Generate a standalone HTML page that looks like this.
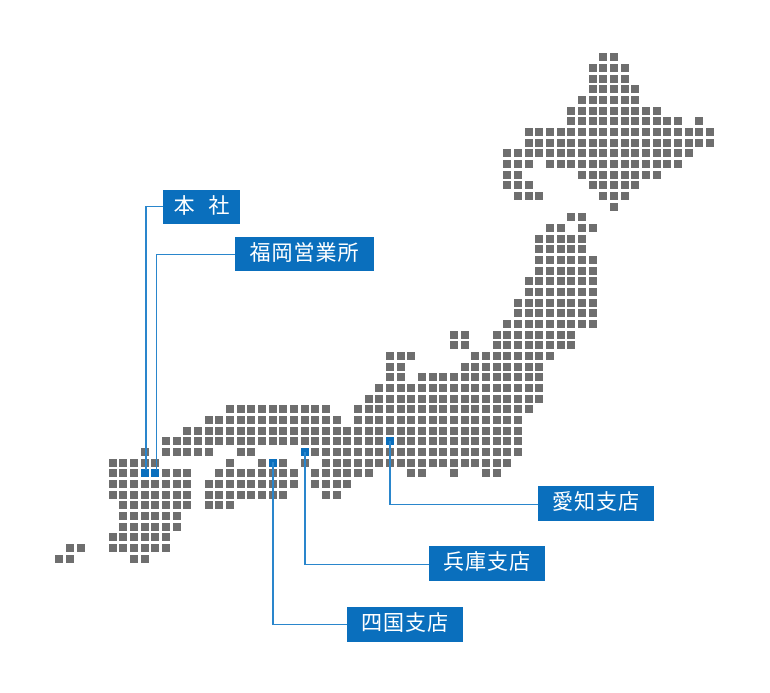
<!DOCTYPE html>
<html><head><meta charset="utf-8">
<style>
html,body{margin:0;padding:0;background:#fff;}
#c{position:relative;width:770px;height:693px;overflow:hidden;}
.s{position:absolute;width:8px;height:8px;background:#6e6e6e;}
.b{background:#0a6fbd;}
.l{position:absolute;background:#2a86cc;}
.box{position:absolute;background:#0a6fbd;color:#fff;font-family:"Liberation Sans","Noto Sans CJK JP",sans-serif;font-size:21px;line-height:34px;text-align:center;white-space:nowrap;}
</style></head><body>
<div id="c">
<div class="l" style="left:145px;top:205.5px;width:1.5px;height:264px"></div>
<div class="l" style="left:145px;top:205.5px;width:18px;height:1.5px"></div>
<div class="l" style="left:155.5px;top:253.5px;width:1.5px;height:216px"></div>
<div class="l" style="left:155.5px;top:253.5px;width:80px;height:1.5px"></div>
<div class="l" style="left:389px;top:441px;width:1.5px;height:64px"></div>
<div class="l" style="left:389px;top:503.5px;width:149px;height:1.5px"></div>
<div class="l" style="left:304px;top:452px;width:1.5px;height:113px"></div>
<div class="l" style="left:304px;top:563.5px;width:126px;height:1.5px"></div>
<div class="l" style="left:272px;top:462px;width:1.5px;height:163px"></div>
<div class="l" style="left:272px;top:623.5px;width:76px;height:1.5px"></div>
<div class="box" style="left:163px;top:190px;width:77px;height:34px;letter-spacing:4px;text-indent:4px">本 社</div>
<div class="box" style="left:235px;top:237px;width:139px;height:34px;letter-spacing:1px">福岡営業所</div>
<div class="box" style="left:538px;top:486px;width:116px;height:35px;letter-spacing:1px">愛知支店</div>
<div class="box" style="left:429px;top:546px;width:116px;height:35px;letter-spacing:1px">兵庫支店</div>
<div class="box" style="left:347px;top:607px;width:116px;height:35px;letter-spacing:1px">四国支店</div>
</div>
<script>
var R={5:"56-57",6:"55-58",7:"55-58",8:"55-59",9:"54-59",10:"53-61",11:"53-63,65",12:"49-66",13:"49-66",14:"47-64",15:"47-49,51-63",16:"47-48,54-61",17:"47-49,55-59",18:"48-50,56-58",19:"57",20:"53-54",21:"51-52,54-55",22:"50-54",23:"50-54",24:"50-55",25:"50-55",26:"49-55",27:"49-55",28:"48-55",29:"48-55",30:"47-55",31:"42-43,46-53",32:"42-43,46-53",33:"36-38,44-51",34:"36-37,43-50",35:"36-37,39-50",36:"35-50",37:"34-50",38:"21-30,33-49",39:"19-31,33-48",40:"17-48",41:"15-35,36b,37-48",42:"13,15-19,22-23,28b,29-48",43:"10-14,21,24,25b,26,28,30-47",44:"10-12,13b,14b,15-17,20-27,29-34,38-39,42,45-46",45:"10-17,19-27,29-32",46:"10-17,19-26,30-31",47:"11-17,19-21",48:"11-16",49:"11-16",50:"10-15",51:"6-7,10-15",52:"5-6,12-13"};
var c=document.getElementById('c'),h='';
for(var r in R){R[r].split(',').forEach(function(p){var bl=p.indexOf('b')>=0;p=p.replace('b','');var a=p.split('-'),s=+a[0],e=a.length>1?+a[1]:s;for(var k=s;k<=e;k++){h+='<div class="s'+(bl?' b':'')+'" style="left:'+(1.8+k*32/3).toFixed(1)+'px;top:'+(r*32/3).toFixed(1)+'px"></div>';}});}
c.insertAdjacentHTML('afterbegin',h);
</script>
</body></html>
